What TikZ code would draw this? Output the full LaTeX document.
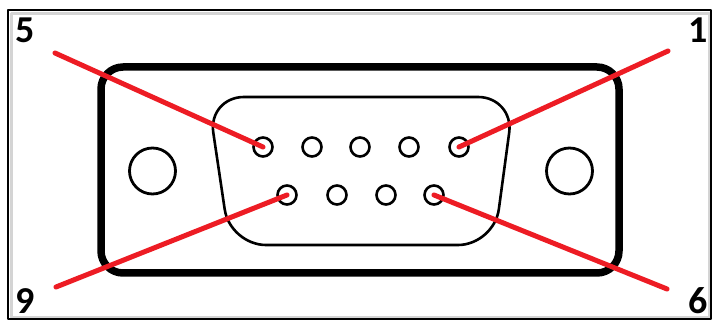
\documentclass[tikz,border=0pt]{standalone}
\usepackage{fontspec}
\setmainfont{Carlito}
\definecolor{pinred}{HTML}{ED1C24}
\definecolor{framegray}{HTML}{D4D4D4}
\begin{document}
\begin{tikzpicture}[x=1pt,y=-1pt, line join=round, line cap=round, font=\fontsize{38}{40}\selectfont\bfseries]
				\useasboundingbox (0,0) rectangle (712,320);
				\path 
				(263,147) coordinate (P5)
				(312,147) coordinate (P4)
				(360,147) coordinate (P3)
				(409,147) coordinate (P2)
				(459,147) coordinate (P1)
				(287,195) coordinate (P9)
				(337,195) coordinate (P8)
				(386,195) coordinate (P7)
				(434,195) coordinate (P6)
				(55,53) coordinate (E5)
				(668,51) coordinate (E1)
				(56,287) coordinate (E9)
				(667,289) coordinate (E6)
				;
				\draw[framegray, line width=3pt] (11.5,13.5) rectangle (709,317);
				\draw[line width=1.6pt] (8,10) rectangle (711,319);
				\draw[line width=7.5pt, rounded corners=22pt] (101,67) rectangle (619,273);
				\draw[line width=2.6pt, rounded corners=36pt] (208,97)--(514,97)--(494,245)--(230,245)--cycle;
				\draw[line width=2.8pt] (152.5,171) circle (23pt) (569.5,171) circle (23pt);
				\draw[line width=2.6pt] (P5) circle (9.5pt) (P4) circle (9.5pt) (P3) circle (9.5pt)
				(P2) circle (9.5pt) (P1) circle (9.5pt) (P9) circle (9.5pt) (P8) circle (9.5pt)
				(P7) circle (9.5pt) (P6) circle (9.5pt);
				\draw[pinred, line width=5pt] (E5)--(P5) (E1)--(P1) (E9)--(P9) (E6)--(P6);
				\node[inner sep=0pt] (L5) at (25,30) {5};
				\node[inner sep=0pt] (L1) at (698,30) {1};
				\node[inner sep=0pt] (L9) at (25,301) {9};
				\node[inner sep=0pt] (L6) at (698,301) {6};
			\end{tikzpicture}
\end{document}
